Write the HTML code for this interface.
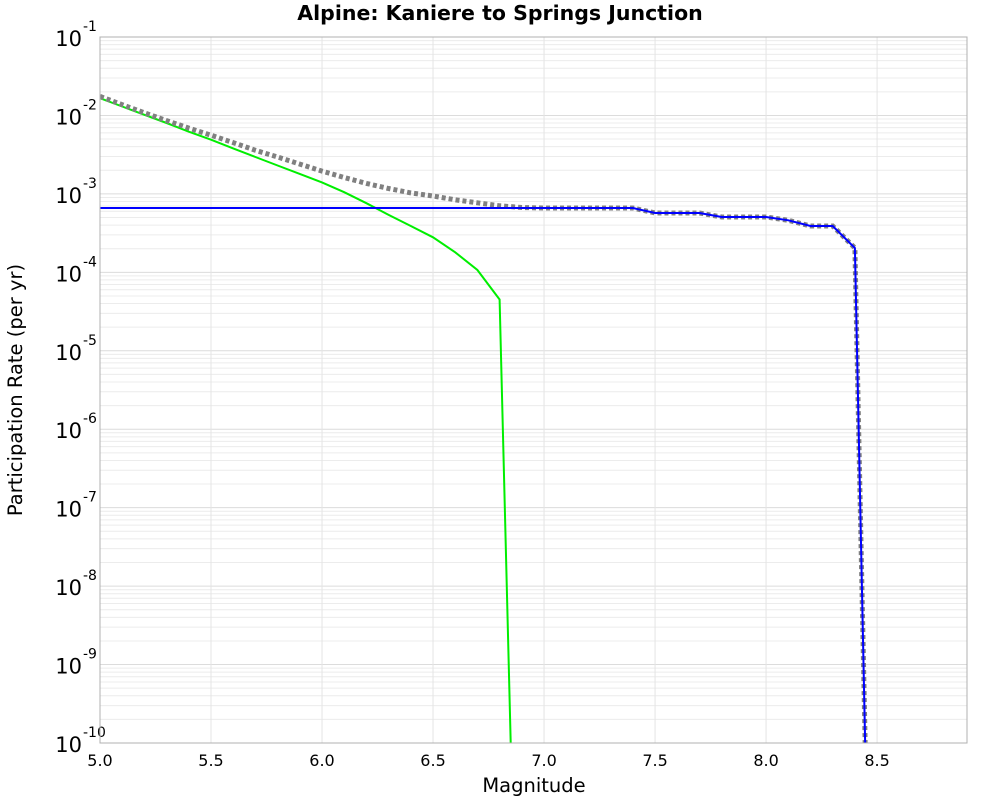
<!DOCTYPE html>
<html><head><meta charset="utf-8"><style>
body{margin:0;background:#fff;font-family:"Liberation Sans","DejaVu Sans",sans-serif}
svg text{font-family:"DejaVu Sans","Liberation Sans",sans-serif}
</style></head><body>
<svg id="c" width="1000" height="800" xmlns="http://www.w3.org/2000/svg">
<text x="500" y="20" text-anchor="middle" font-size="20.5" font-weight="bold">Alpine: Kaniere to Springs Junction</text>
<text x="534" y="792" text-anchor="middle" font-size="19.5">Magnitude</text>
<text transform="translate(22,390) rotate(-90)" text-anchor="middle" font-size="19.5">Participation Rate (per yr)</text>
<g id="grid"></g><g id="series"></g><g id="axes"></g>
</svg>
<script>
const xTicks=[5.0,5.5,6.0,6.5,7.0,7.5,8.0,8.5];
const yDecades=[-1,-2,-3,-4,-5,-6,-7,-8,-9,-10];
const blueM=[5.0,7.0,7.1,7.2,7.3,7.4,7.5,7.6,7.7,7.8,7.9,8.0,8.1,8.2,8.3,8.4,8.45];
const blueV=[6.6e-4,6.6e-4,6.6e-4,6.6e-4,6.6e-4,6.6e-4,5.7e-4,5.7e-4,5.7e-4,5.07e-4,5.07e-4,5.07e-4,4.6e-4,3.9e-4,3.9e-4,2.04e-4,3e-11];
const greenM=[5.0,5.1,5.2,5.3,5.4,5.5,5.6,5.7,5.8,5.9,6.0,6.1,6.2,6.3,6.4,6.5,6.6,6.7,6.8,6.85];
const greenV=[1.66e-2,1.3e-2,1.02e-2,8.0e-3,6.2e-3,4.9e-3,3.8e-3,2.95e-3,2.3e-3,1.8e-3,1.4e-3,1.05e-3,7.6e-4,5.4e-4,3.9e-4,2.8e-4,1.8e-4,1.07e-4,4.5e-5,1e-10];
const totalM=[5.0,5.1,5.2,5.3,5.4,5.5,5.6,5.7,5.8,5.9,6.0,6.1,6.2,6.3,6.4,6.5,6.6,6.7,6.8,6.9,7.0,7.1,7.2,7.3,7.4,7.5,7.6,7.7,7.8,7.9,8.0,8.1,8.2,8.3,8.4,8.45];
const totalV=[1.75e-2,1.37e-2,1.08e-2,8.6e-3,6.9e-3,5.6e-3,4.5e-3,3.6e-3,2.95e-3,2.4e-3,1.95e-3,1.62e-3,1.36e-3,1.17e-3,1.03e-3,9.4e-4,8.4e-4,7.7e-4,7.05e-4,6.7e-4,6.6e-4,6.6e-4,6.6e-4,6.6e-4,6.6e-4,5.7e-4,5.7e-4,5.7e-4,5.07e-4,5.07e-4,5.07e-4,4.6e-4,3.9e-4,3.9e-4,2.04e-4,3e-11];
const X0=100,X1=967,Y0=37,Y1=743,xmin=5.0,xmax=8.905,lmax=-1,lmin=-10;
const NS="http://www.w3.org/2000/svg";
function xs(m){return X0+(m-xmin)/(xmax-xmin)*(X1-X0);}
function ys(v){return Y0+(lmax-Math.log10(v))/(lmax-lmin)*(Y1-Y0);}
function mk(t,a,p){const e=document.createElementNS(NS,t);for(const k in a)e.setAttribute(k,a[k]);p.appendChild(e);return e;}
const grid=document.getElementById('grid'),axes=document.getElementById('axes'),ser=document.getElementById('series');
for(let d=-10;d<-1;d++){for(let k=2;k<=9;k++){const y=ys(k*Math.pow(10,d));
const l=mk('line',{x1:X0,x2:X1,y1:y,y2:y,stroke:'#ececec','stroke-width':1},grid);

}}
yDecades.forEach(d=>{const y=ys(Math.pow(10,d));
const l=mk('line',{x1:X0,x2:X1,y1:y,y2:y,stroke:'#dcdcdc','stroke-width':1},grid);


const t=mk('text',{x:82,y:y+9,'text-anchor':'end','font-size':21},axes);t.textContent='10';


const s=mk('text',{x:83,y:y-6,'font-size':14},axes);s.textContent=String(d);

});
xTicks.forEach(m=>{const x=xs(m);
const l=mk('line',{x1:x,x2:x,y1:Y0,y2:Y1,stroke:'#e4e4e4','stroke-width':1},grid);


const t=mk('text',{x:x,y:766,'text-anchor':'middle','font-size':16},axes);t.textContent=m.toFixed(1);

});
const fr=mk('rect',{x:X0,y:Y0,width:X1-X0,height:Y1-Y0,fill:'none',stroke:'#b0b0b0','stroke-width':1},axes);


const cp=mk('clipPath',{id:'cl'},ser);mk('rect',{x:X0,y:Y0,width:X1-X0,height:Y1-Y0},cp);
function pts(M,V){return M.map((m,i)=>xs(m).toFixed(1)+','+ys(V[i]).toFixed(1)).join(' ');}
const pg=mk('polyline',{points:pts(greenM,greenV),fill:'none',stroke:'#00ee00','stroke-width':2,'clip-path':'url(#cl)'},ser);


const pt=mk('polyline',{points:pts(totalM,totalV),fill:'none',stroke:'#808080','stroke-width':5,'stroke-dasharray':'4 3','clip-path':'url(#cl)'},ser);


const pb=mk('polyline',{points:pts(blueM,blueV),fill:'none',stroke:'#0000ff','stroke-width':2,'clip-path':'url(#cl)'},ser);


</script>
</body></html>
